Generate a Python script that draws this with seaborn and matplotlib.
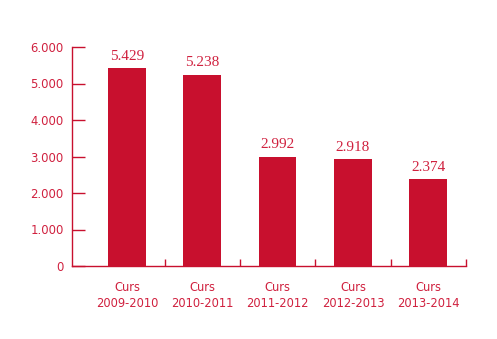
import matplotlib
matplotlib.use("Agg")
import matplotlib.pyplot as plt
import seaborn as sns
import pandas as pd
from matplotlib.ticker import FixedLocator, FuncFormatter

categories = ["Curs\n2009-2010", "Curs\n2010-2011", "Curs\n2011-2012", "Curs\n2012-2013", "Curs\n2013-2014"]
values = [5429, 5238, 2992, 2918, 2374]
value_labels = ["5.429", "5.238", "2.992", "2.918", "2.374"]
y_ticks = [0, 1000, 2000, 3000, 4000, 5000, 6000]
y_tick_labels = ["0", "1.000", "2.000", "3.000", "4.000", "5.000", "6.000"]

RED = "#C8102E"
TXT = "#D0213F"

sns.set_style("white")
plt.rcParams['font.family'] = ['DejaVu Sans']

df = pd.DataFrame({"cat": categories, "val": values})

fig = plt.figure(figsize=(4.97, 3.39), dpi=100)
ax = fig.add_axes([72/497, 1-266/339, (466-72)/497, (266-47)/339])
sns.barplot(data=df, x="cat", y="val", color=RED, saturation=1, width=0.5, linewidth=0, ax=ax)

ax.set_xlim(-0.73, 4.5)
ax.set_ylim(0, 6000)
ax.set_xlabel("")
ax.set_ylabel("")

for s in ["top", "right"]:
    ax.spines[s].set_visible(False)
for s in ["left", "bottom"]:
    ax.spines[s].set_color(RED)
    ax.spines[s].set_linewidth(1)

ax.yaxis.set_major_locator(FixedLocator(y_ticks))
ax.set_yticklabels(y_tick_labels)
ax.tick_params(axis="y", direction="in", length=9, width=1, color=RED, labelcolor=TXT, labelsize=8.4, pad=6, left=True)

n = len(categories)
ax.xaxis.set_major_locator(FixedLocator([i + 0.5 for i in range(n)]))
ax.xaxis.set_minor_locator(FixedLocator(list(range(n))))
ax.xaxis.set_major_formatter(FuncFormatter(lambda v, p: ""))
ax.xaxis.set_minor_formatter(FuncFormatter(lambda v, p: categories[int(round(v))]))
ax.tick_params(axis="x", which="major", direction="in", length=5, width=1, color=RED, bottom=True)
ax.tick_params(axis="x", which="minor", length=0, labelcolor=TXT, labelsize=8.3, pad=11, bottom=True)
for lbl in ax.xaxis.get_minorticklabels():
    lbl.set_linespacing(1.3)

for i, (v, t) in enumerate(zip(values, value_labels)):
    ax.annotate(t, (i, v), xytext=(0, 6), textcoords="offset points", ha="center", va="baseline",
                color=TXT, fontsize=11, family=["Liberation Serif", "DejaVu Serif"])

fig.savefig("out.png", dpi=100)
